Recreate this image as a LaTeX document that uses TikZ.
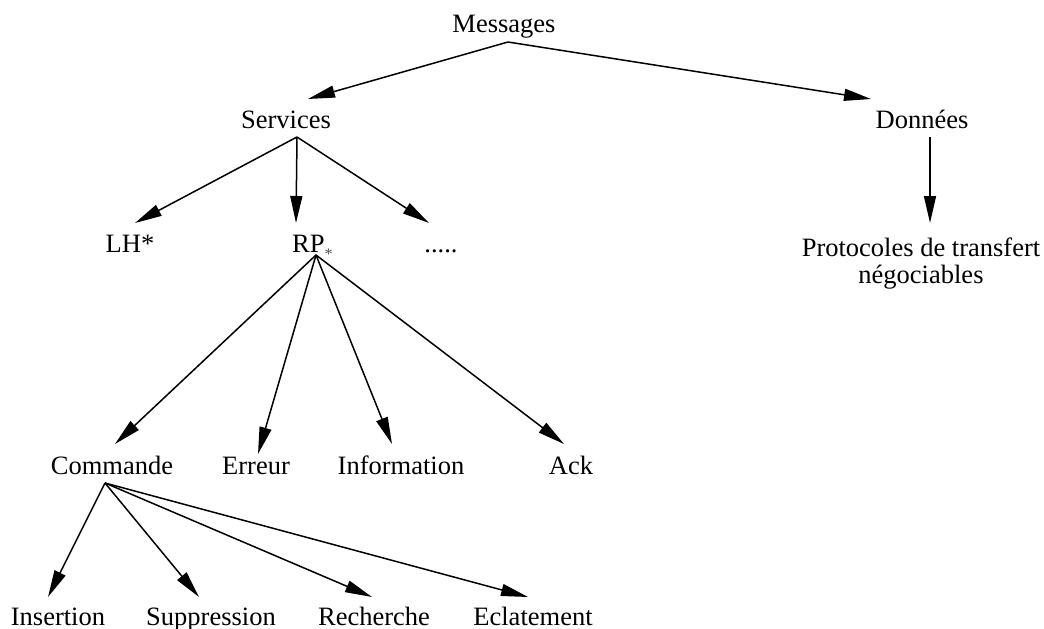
\documentclass[tikz,border=0pt]{standalone}
\usepackage{fontspec}
\setmainfont{Liberation Serif}
\usetikzlibrary{arrows.meta}
\begin{document}
\begin{tikzpicture}[x=1pt,y=-1pt,
  lbl/.style={inner sep=0pt, font=\fontsize{26.5}{27}\selectfont, anchor=base},
  arr/.style={line width=1.5pt, -{Triangle[length=27pt,width=12pt]}}]
\useasboundingbox (0,0) rectangle (1044,629);

% labels (placed on their baselines)
\node[lbl] (msg)  at (504,32)  {Messages};
\node[lbl] (svc)  at (286,128) {Services};
\node[lbl] (don)  at (922,128) {Données};
\node[lbl] (lh)   at (130,252) {LH*};
\node[lbl, anchor=base west] (rp) at (292,252)
  {RP\raisebox{-7pt}{\fontsize{16}{16}\selectfont\color{black!70}*}};
\node[lbl] (dots) at (441,252) {.....};
\node[lbl, anchor=north, align=center] (proto) at (921,238)
  {Protocoles de transfert\\négociables};
\node[lbl] (cmd)  at (112,474) {Commande};
\node[lbl] (err)  at (256,474) {Erreur};
\node[lbl] (info) at (401,474) {Information};
\node[lbl] (ack)  at (571,474) {Ack};
\node[lbl] (ins)  at (58,625)  {Insertion};
\node[lbl] (sup)  at (211,625) {Suppression};
\node[lbl] (rech) at (374,625) {Recherche};
\node[lbl] (ecl)  at (533,625) {Eclatement};

% connector end points
\coordinate (msg-out)  at (508,42);
\coordinate (svc-in)   at (308,99);
\coordinate (don-in)   at (871,99);
\coordinate (svc-out)  at (297,137);
\coordinate (lh-in)    at (135,223);
\coordinate (rp-in)    at (296,223);
\coordinate (dots-in)  at (429,223);
\coordinate (don-out)  at (930,137);
\coordinate (proto-in) at (930,223);
\coordinate (rp-out)   at (316,255);
\coordinate (cmd-in)   at (115,444);
\coordinate (err-in)   at (258,454);
\coordinate (info-in)  at (392,444);
\coordinate (ack-in)   at (564,444);
\coordinate (cmd-out)  at (105,483);
\coordinate (ins-in)   at (48,597);
\coordinate (sup-in)   at (199,597);
\coordinate (rech-in)  at (372,597);
\coordinate (ecl-in)   at (528,597);

% tree edges
\draw[arr] (msg-out) -- (svc-in);
\draw[arr] (msg-out) -- (don-in);
\draw[arr] (svc-out) -- (lh-in);
\draw[arr] (svc-out) -- (rp-in);
\draw[arr] (svc-out) -- (dots-in);
\draw[arr] (don-out) -- (proto-in);
\draw[arr] (rp-out) -- (cmd-in);
\draw[arr] (rp-out) -- (err-in);
\draw[arr] (rp-out) -- (info-in);
\draw[arr] (rp-out) -- (ack-in);
\draw[arr] (cmd-out) -- (ins-in);
\draw[arr] (cmd-out) -- (sup-in);
\draw[arr] (cmd-out) -- (rech-in);
\draw[arr] (cmd-out) -- (ecl-in);
\end{tikzpicture}
\end{document}
